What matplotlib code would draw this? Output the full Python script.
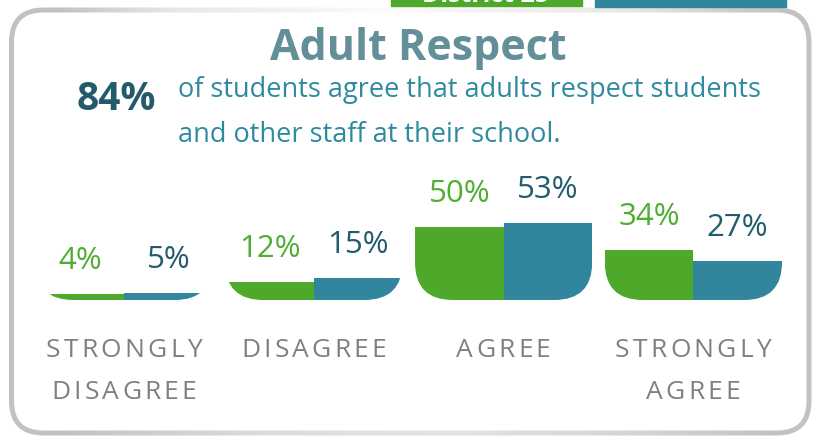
import numpy as np
import matplotlib
matplotlib.use("Agg")
import matplotlib.pyplot as plt
from matplotlib.patches import FancyBboxPatch, Rectangle
from matplotlib.font_manager import FontProperties
from matplotlib.transforms import IdentityTransform

# data
categories = [["STRONGLY", "DISAGREE"], ["DISAGREE"], ["AGREE"], ["STRONGLY", "AGREE"]]
district = [4, 12, 50, 34]      # green
comparison = [5, 15, 53, 27]    # teal
headline = "84%"
title = "Adult Respect"
body = ["of students agree that adults respect students",
        "and other staff at their school."]
legend_names = ["District 25"]

GREEN = "#4ea82a"
TEAL = "#31859c"
GREEN_TXT = "#4fae32"
TEAL_TXT = "#245b6c"
FONT = "Open Sans"

W, H = 814, 437
fig = plt.figure(figsize=(W / 100, H / 100), dpi=100)

# background axes in pixel coordinates (y down)
bg = fig.add_axes([0, 0, 1, 1])
bg.set_xlim(0, W)
bg.set_ylim(H, 0)
bg.axis("off")

# legend boxes cut off at the top
bg.add_patch(Rectangle((391, -20), 191, 26, color=GREEN, zorder=3))
bg.add_patch(Rectangle((595, -20), 191, 27, color=TEAL, zorder=3))
bg.text(486, 2, legend_names[0], color="white", fontsize=18, fontweight="bold",
        family=FONT, ha="center", va="baseline", zorder=4)

# rounded frame
frame = FancyBboxPatch((11.5, 10), 797.5, 423, boxstyle="round,pad=0,rounding_size=32",
                       fill=False, ec="#c2c2c2", lw=3.6, zorder=1)
bg.add_patch(frame)
# fade the top and bottom edges towards white in the middle
xs = np.linspace(0, 1, 400)
a_top = np.interp(xs, [0, 0.15, 0.45, 0.8, 1], [0, 0.6, 0.95, 0.6, 0])
grad = np.ones((1, 400, 4))
grad[0, :, 3] = a_top
bg.imshow(grad, extent=(60, 780, 14, 5), aspect="auto", zorder=2)
a_bot = np.interp(xs, [0, 0.3, 0.55, 0.8, 1], [0, 0.45, 0.55, 0.3, 0])
grad2 = np.ones((1, 400, 4))
grad2[0, :, 3] = a_bot
bg.imshow(grad2, extent=(60, 780, 437, 428), aspect="auto", zorder=2)
bg.set_xlim(0, W)
bg.set_ylim(H, 0)

# titles
bg.text(418, 60, title, color="#628f98", fontsize=31, fontweight="bold",
        family=FONT, ha="center", va="baseline")
bg.text(77, 110, headline, color=TEAL_TXT, fontsize=28, fontweight="bold",
        family=FONT, ha="left", va="baseline")
bg.text(178, 97, body[0], color="#2f8aa0", fontsize=19.5, family=FONT,
        ha="left", va="baseline")
bg.text(178, 142, body[1], color="#2f8aa0", fontsize=19.5, family=FONT,
        ha="left", va="baseline")

# bars
x = np.arange(len(district))
w = 0.467
y_top = 140 / 1.46
ax = fig.add_axes([20 / W, (H - 300) / H, 774 / W, 140 / H])
ax.set_xlim(-0.548, 3.53)
ax.set_ylim(0, y_top)
ax.axis("off")
ax.patch.set_alpha(0)

b1 = ax.bar(x - w / 2, district, width=w, color=GREEN, lw=0)
b2 = ax.bar(x + w / 2, comparison, width=w, color=TEAL, lw=0)
# each pair sits in a box with rounded bottom corners (clip in pixel space)
for i in range(len(x)):
    (x0, y0), (x1, y1) = ax.transData.transform([(x[i] - w, 0), (x[i] + w, y_top * 2)])
    clip = FancyBboxPatch((x0, y0), x1 - x0, y1 - y0,
                          boxstyle="round,pad=0,rounding_size=38",
                          transform=IdentityTransform())
    b1[i].set_clip_path(clip)
    b2[i].set_clip_path(clip)

for i in range(len(x)):
    ax.annotate(f"{district[i]}%", (x[i] - w / 2, district[i]), xytext=(0, 18),
                textcoords="offset points", ha="center", va="baseline",
                fontsize=22.5, color=GREEN_TXT, family=FONT)
    ax.annotate(f"{comparison[i]}%", (x[i] + w / 2, comparison[i]), xytext=(0, 18),
                textcoords="offset points", ha="center", va="baseline",
                fontsize=22.5, color=TEAL_TXT, family=FONT)

# category labels with letter spacing
renderer = fig.canvas.get_renderer()
fp = FontProperties(family=FONT, size=19)


def spaced(cx, y, s, track=3.2):
    widths = [renderer.get_text_width_height_descent(c, fp, ismath=False)[0] for c in s]
    total = sum(widths) + track * (len(s) - 1)
    xx = cx - total / 2
    for c, cw in zip(s, widths):
        bg.text(xx, y, c, fontproperties=fp, color="#808080", ha="left", va="baseline")
        xx += cw + track


centers = 124 + 189.7 * x
for i, lines in enumerate(categories):
    for j, line in enumerate(lines):
        spaced(centers[i], 357 + 42 * j, line)

fig.savefig("out.png", dpi=100)
